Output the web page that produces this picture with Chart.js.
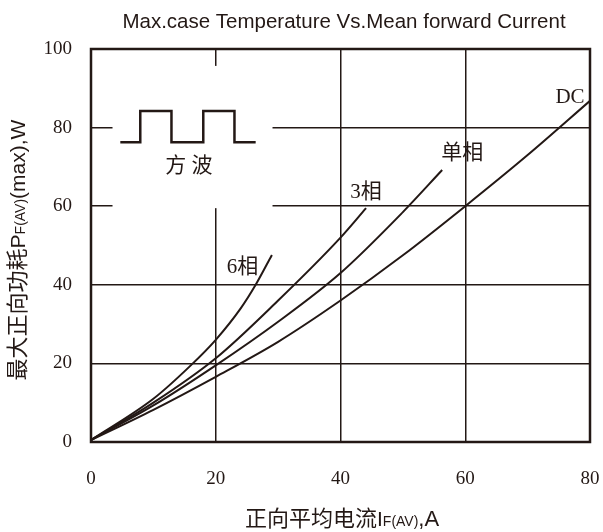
<!DOCTYPE html>
<html>
<head>
<meta charset="utf-8">
<script src="https://cdn.jsdelivr.net/npm/chart.js@4/dist/chart.umd.min.js"></script>
<style>
html, body { margin: 0; padding: 0; background: #fff; }
</style>
</head>
<body>
<canvas id="chart" width="603" height="532"></canvas>
<script>
// Données
const xTicks = [0, 20, 40, 60, 80];
const yTicks = [0, 20, 40, 60, 80, 100];

const seriesNames = ["DC", "单相", "3相", "6相"];

const dcX = [0, 10, 20, 30, 40, 50, 60, 70, 80];
const dcY = [0.5, 8.2, 16.6, 25.5, 36, 47.5, 60, 73, 86.8];

const singleX = [0, 10, 20, 30, 40, 50, 56.3];
const singleY = [0.5, 9.3, 19.5, 30.6, 43, 58.5, 69.2];

const threeX = [0, 10, 20, 30, 40, 44.1];
const threeY = [0.5, 10, 21.3, 36, 52, 59.5];

const sixX = [0, 10, 16, 20, 24, 26.4, 29];
const sixY = [0.5, 11, 19.5, 26, 34, 40, 47.6];

// petit schéma "方 波" (onde carrée)
const waveX = [4.7, 7.9, 7.9, 12.9, 12.9, 18, 18, 23, 23, 26.4];
const waveY = [76.3, 76.3, 84.2, 84.2, 76.3, 76.3, 84.2, 84.2, 76.3, 76.3];

// position des étiquettes des courbes (en valeurs)
const labelX = [76.8, 59.5, 44.1, 24.3];
const labelY = [87.7, 73.5, 63.4, 44.3];

const ink = '#231815';

function toPoints(xs, ys) {
    return xs.map((x, i) => ({ x: x, y: ys[i] }));
}

function curve(xs, ys) {
    return {
        data: toPoints(xs, ys),
        showLine: true,
        borderColor: ink,
        borderWidth: 2,
        pointRadius: 0,
        tension: 0.4,
        cubicInterpolationMode: 'monotone'
    };
}

// dessine un texte composé de morceaux de tailles différentes
function drawParts(ctx, parts, x, y) {
    let cx = x;
    parts.forEach(p => {
        ctx.font = p.f;
        ctx.fillText(p.t, cx, y);
        cx += ctx.measureText(p.t).width;
    });
}

function partsWidth(ctx, parts) {
    let w = 0;
    parts.forEach(p => {
        ctx.font = p.f;
        w += ctx.measureText(p.t).width;
    });
    return w;
}

const cjk = '"Noto Sans CJK SC"';
const sans = '"Liberation Sans"';
const serif = '"Liberation Serif"';

const xTitle = [
    { t: '正向平均电流', f: '22px ' + cjk },
    { t: 'I', f: '21px ' + sans },
    { t: 'F(AV)', f: '14px ' + sans },
    { t: ',A', f: '22px ' + sans }
];

const yTitle = [
    { t: '最大正向功耗', f: '22px ' + cjk },
    { t: 'P', f: '21px ' + sans },
    { t: 'F(AV)', f: '14px ' + sans },
    { t: '(max),W', f: '21px ' + sans }
];

const decor = {
    id: 'decor',
    beforeDatasetsDraw(chart) {
        const ctx = chart.ctx;
        const xs = chart.scales.x, ys = chart.scales.y;
        // zone blanche derrière le schéma
        const l = xs.getPixelForValue(3.45), r = xs.getPixelForValue(29.1);
        const t = ys.getPixelForValue(95.7), b = ys.getPixelForValue(59.5);
        ctx.save();
        ctx.fillStyle = '#fff';
        ctx.fillRect(l, t, r - l, b - t);
        ctx.restore();
    },
    afterDraw(chart) {
        const ctx = chart.ctx;
        const a = chart.chartArea;
        const xs = chart.scales.x, ys = chart.scales.y;
        ctx.save();
        // cadre
        ctx.strokeStyle = ink;
        ctx.lineWidth = 2.5;
        ctx.strokeRect(a.left, a.top, a.right - a.left, a.bottom - a.top);

        ctx.fillStyle = ink;
        // titre
        ctx.font = '20.5px ' + sans;
        ctx.textAlign = 'center';
        ctx.textBaseline = 'middle';
        ctx.fillText('Max.case Temperature Vs.Mean forward Current', 344, 22);

        // étiquettes des courbes
        ctx.font = '21px ' + serif + ', ' + cjk;
        seriesNames.forEach((name, i) => {
            ctx.fillText(name, xs.getPixelForValue(labelX[i]), ys.getPixelForValue(labelY[i]));
        });
        ctx.fillText('方 波', xs.getPixelForValue(15.7), ys.getPixelForValue(70.2));

        // titres des axes
        ctx.textAlign = 'left';
        ctx.textBaseline = 'alphabetic';
        drawParts(ctx, xTitle, 245, 526);

        ctx.translate(18, 250);
        ctx.rotate(-Math.PI / 2);
        drawParts(ctx, yTitle, -partsWidth(ctx, yTitle) / 2, 7);
        ctx.restore();
    }
};

function initChart() {
    const ctx = document.getElementById('chart').getContext('2d');
    const wave = curve(waveX, waveY);
    wave.tension = 0;
    wave.cubicInterpolationMode = 'default';
    wave.borderWidth = 2.5;

    return new Chart(ctx, {
        type: 'scatter',
        data: {
            datasets: [
                curve(dcX, dcY),
                curve(singleX, singleY),
                curve(threeX, threeY),
                curve(sixX, sixY),
                wave
            ]
        },
        options: {
            responsive: false,
            animation: false,
            devicePixelRatio: 1,
            layout: { padding: { top: 49, right: 13, left: 0, bottom: 0 } },
            plugins: {
                legend: { display: false },
                tooltip: { enabled: false }
            },
            scales: {
                x: {
                    type: 'linear',
                    min: 0,
                    max: 80,
                    afterFit: s => { s.height = 90; s.paddingLeft = 0; s.paddingRight = 0; },
                    afterBuildTicks: s => { s.ticks = xTicks.map(v => ({ value: v })); },
                    border: { display: false },
                    grid: { color: ink, lineWidth: 1.5, drawTicks: false },
                    ticks: {
                        color: ink,
                        padding: 26,
                        font: { family: 'Liberation Serif', size: 19 }
                    }
                },
                y: {
                    type: 'linear',
                    min: 0,
                    max: 100,
                    afterFit: s => { s.width = 91; s.paddingTop = 0; s.paddingBottom = 0; },
                    afterBuildTicks: s => { s.ticks = yTicks.map(v => ({ value: v })); },
                    border: { display: false },
                    grid: { color: ink, lineWidth: 1.5, drawTicks: false },
                    ticks: {
                        color: ink,
                        padding: 19,
                        font: { family: 'Liberation Serif', size: 19 }
                    }
                }
            }
        },
        plugins: [decor]
    });
}

document.addEventListener('DOMContentLoaded', initChart);
</script>
</body>
</html>
